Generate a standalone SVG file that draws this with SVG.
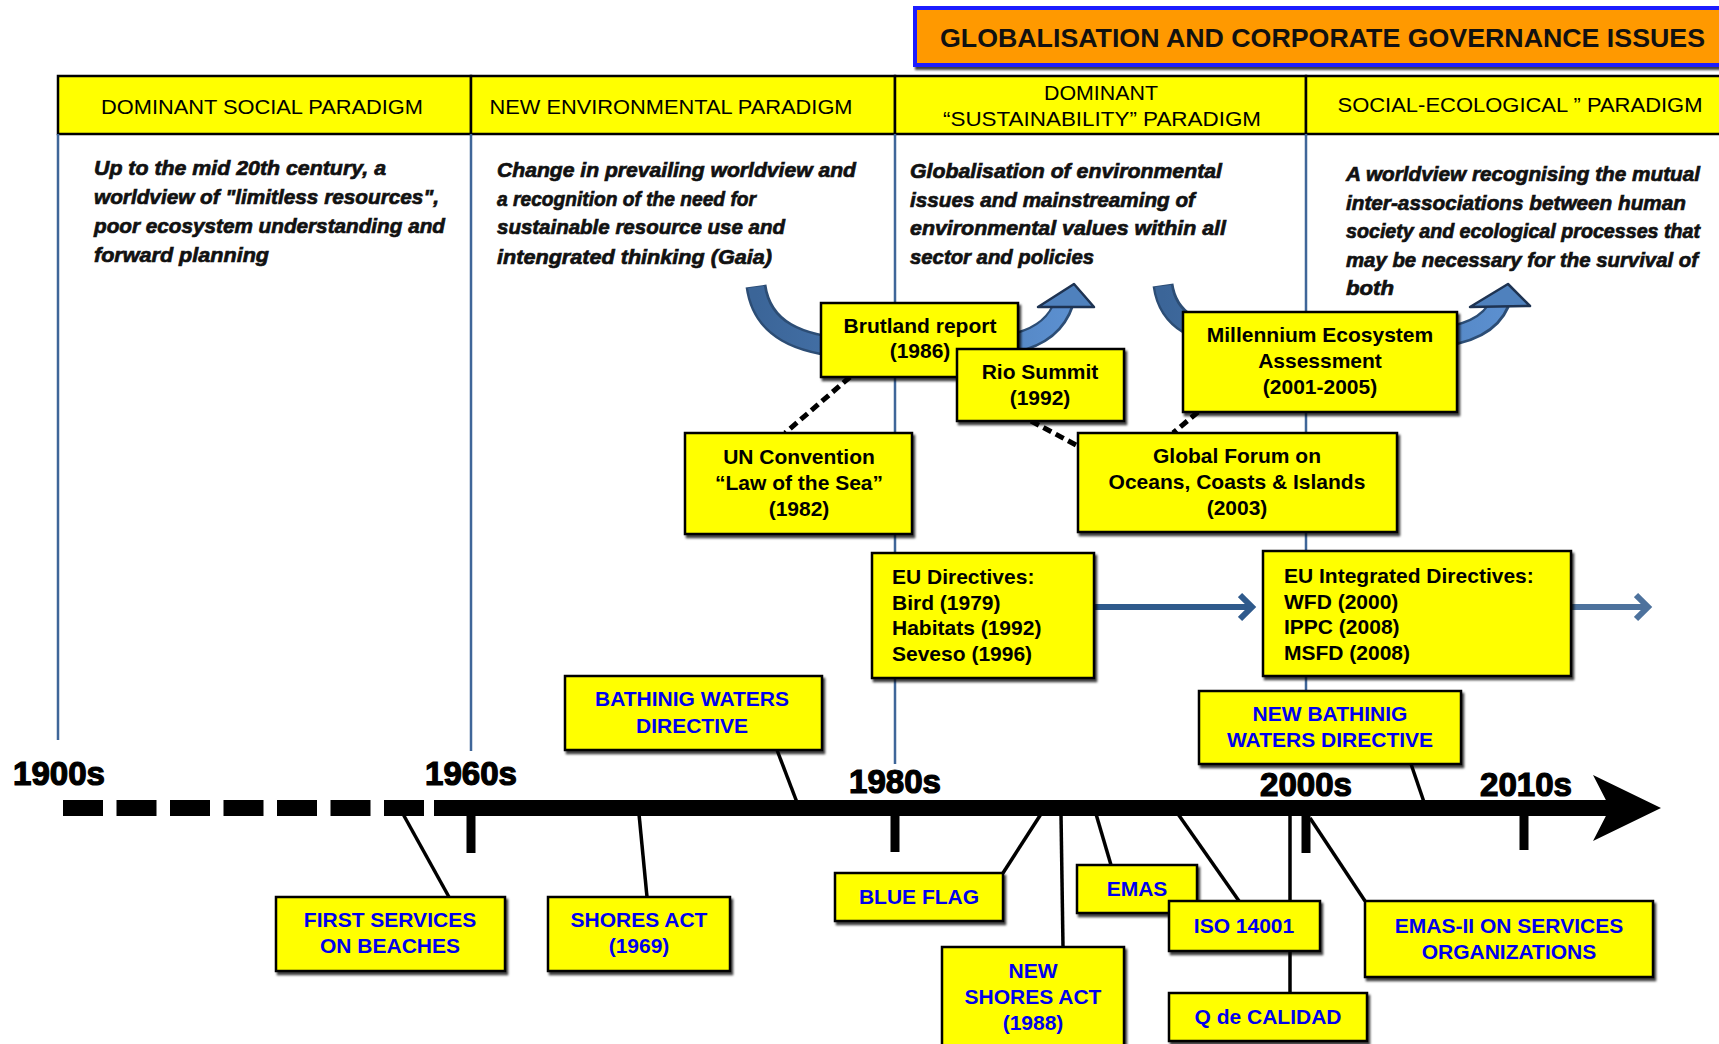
<svg xmlns="http://www.w3.org/2000/svg" width="1719" height="1044" viewBox="0 0 1719 1044">
<style>
text{font-family:"Liberation Sans",Arial,sans-serif}
.hdr{fill:#ffff00;stroke:#000;stroke-width:2.5}
.ht{font-size:21px;fill:#000;text-anchor:middle}
.it{font-size:21px;font-weight:bold;font-style:italic;fill:#111;stroke:#111;stroke-width:0.7}
.vl{stroke:#3f6699;stroke-width:2.5}
.box{fill:#ffff00;stroke:#000;stroke-width:2.5;filter:url(#sh)}
.bt{font-size:21px;font-weight:bold;fill:#000;text-anchor:middle}
.btl{font-size:21px;font-weight:bold;fill:#000}
.blue{font-size:21px;font-weight:bold;fill:#0000ee;text-anchor:middle}
.yr{font-size:33px;font-weight:bold;fill:#000;stroke:#000;stroke-width:1.2}
.con{stroke:#000;stroke-width:3.5;fill:none}
.dash{stroke:#000;stroke-width:5;stroke-dasharray:9 5;fill:none}
.tick{stroke:#000;stroke-width:9}
.eu{stroke:#2f5a8c;stroke-width:6;fill:none}
</style>
<defs>
<filter id="sh" x="-5%" y="-5%" width="115%" height="125%">
<feDropShadow dx="2" dy="3" stdDeviation="1" flood-color="#000" flood-opacity="0.75"/>
</filter>
<linearGradient id="ag" x1="0" y1="0" x2="1" y2="0">
<stop offset="0" stop-color="#3b6598"/>
<stop offset="1" stop-color="#5b8fcf"/>
</linearGradient>
<marker id="chev" markerUnits="userSpaceOnUse" markerWidth="24" markerHeight="34" refX="10" refY="17" orient="auto">
<path d="M2 5 L14 17 L2 29" stroke="#2f5a8c" stroke-width="6" fill="none"/>
</marker>
</defs>

<!-- title -->
<g id="title">
<rect x="915" y="8" width="820" height="57" fill="#ff9900" stroke="#1a1aff" stroke-width="4" filter="url(#sh)"/>
<text x="940" y="47" font-size="26" font-weight="bold" fill="#111" textLength="765" lengthAdjust="spacingAndGlyphs">GLOBALISATION AND CORPORATE GOVERNANCE ISSUES</text>
</g>

<!-- header -->
<g id="header">
<rect class="hdr" x="58" y="76" width="413" height="58"/>
<rect class="hdr" x="471" y="76" width="424" height="58"/>
<rect class="hdr" x="895" y="76" width="411" height="58"/>
<rect class="hdr" x="1306" y="76" width="420" height="58"/>
<text class="ht" x="262" y="114" textLength="322" lengthAdjust="spacingAndGlyphs">DOMINANT SOCIAL PARADIGM</text>
<text class="ht" x="671" y="114" textLength="363" lengthAdjust="spacingAndGlyphs">NEW ENVIRONMENTAL PARADIGM</text>
<text class="ht" x="1101" y="100" textLength="114" lengthAdjust="spacingAndGlyphs">DOMINANT</text>
<text class="ht" x="1102" y="126" textLength="318" lengthAdjust="spacingAndGlyphs">“SUSTAINABILITY” PARADIGM</text>
<text class="ht" x="1520" y="112" textLength="365" lengthAdjust="spacingAndGlyphs">SOCIAL-ECOLOGICAL ” PARADIGM</text>
</g>

<!-- vertical era lines -->
<g id="era-lines">
<line class="vl" x1="58" y1="134" x2="58" y2="740"/>
<line class="vl" x1="471" y1="134" x2="471" y2="751"/>
<line class="vl" x1="895" y1="134" x2="895" y2="764"/>
<line class="vl" x1="1306" y1="134" x2="1306" y2="691"/>
</g>

<!-- era descriptions -->
<g id="era-text">
<text class="it" x="94" y="175" textLength="292" lengthAdjust="spacingAndGlyphs">Up to the mid 20th century, a</text>
<text class="it" x="94" y="204" textLength="345" lengthAdjust="spacingAndGlyphs">worldview of "limitless resources",</text>
<text class="it" x="94" y="233" textLength="351" lengthAdjust="spacingAndGlyphs">poor ecosystem understanding and</text>
<text class="it" x="94" y="262" textLength="175" lengthAdjust="spacingAndGlyphs">forward planning</text>

<text class="it" x="497" y="177" textLength="359" lengthAdjust="spacingAndGlyphs">Change in prevailing worldview and</text>
<text class="it" x="497" y="206" textLength="259" lengthAdjust="spacingAndGlyphs">a recognition of the need for</text>
<text class="it" x="497" y="234" textLength="288" lengthAdjust="spacingAndGlyphs">sustainable resource use and</text>
<text class="it" x="497" y="264" textLength="275" lengthAdjust="spacingAndGlyphs">intengrated thinking (Gaia)</text>

<text class="it" x="910" y="178" textLength="312" lengthAdjust="spacingAndGlyphs">Globalisation of environmental</text>
<text class="it" x="910" y="207" textLength="285" lengthAdjust="spacingAndGlyphs">issues and mainstreaming of</text>
<text class="it" x="910" y="235" textLength="316" lengthAdjust="spacingAndGlyphs">environmental values within all</text>
<text class="it" x="910" y="264" textLength="184" lengthAdjust="spacingAndGlyphs">sector and policies</text>

<text class="it" x="1346" y="181" textLength="354" lengthAdjust="spacingAndGlyphs">A worldview recognising the mutual</text>
<text class="it" x="1346" y="210" textLength="340" lengthAdjust="spacingAndGlyphs">inter-associations between human</text>
<text class="it" x="1346" y="238" font-size="20" textLength="354" lengthAdjust="spacingAndGlyphs" style="font-size:20px">society and ecological processes that</text>
<text class="it" x="1346" y="267" textLength="352" lengthAdjust="spacingAndGlyphs">may be necessary for the survival of</text>
<text class="it" x="1346" y="295" textLength="48" lengthAdjust="spacingAndGlyphs">both</text>
</g>

<!-- curved transition arrows -->
<g id="curved-arrows">
<path d="M756 286 C762 330 800 345 850 348 L990 346 C1030 344 1055 330 1064 303" stroke="#2c4d75" stroke-width="21" fill="none"/>
<path d="M756 287 C762 330 800 345 850 348 L990 346 C1030 344 1055 330 1064 302" stroke="url(#ag)" stroke-width="16" fill="none"/>
<polygon points="1038,307 1074,284 1094,307" fill="#4f81bd" stroke="#1e3352" stroke-width="2.5" stroke-linejoin="round"/>
<path d="M1163 285 C1168 322 1200 336 1240 338 L1430 338 C1465 336 1490 326 1500 303" stroke="#2c4d75" stroke-width="21" fill="none"/>
<path d="M1163 286 C1168 322 1200 336 1240 338 L1430 338 C1465 336 1490 326 1500 302" stroke="url(#ag)" stroke-width="16" fill="none"/>
<polygon points="1470,307 1508,284 1530,306" fill="#4f81bd" stroke="#1e3352" stroke-width="2.5" stroke-linejoin="round"/>
</g>

<!-- timeline -->
<g id="timeline">
<line x1="63" y1="808" x2="476" y2="808" stroke="#000" stroke-width="16" stroke-dasharray="40 13.5"/>
<line x1="434" y1="808" x2="1612" y2="808" stroke="#000" stroke-width="16"/>
<polygon points="1593,775 1661,808 1593,841 1610,808" fill="#000"/>
<line class="tick" x1="471" y1="808" x2="471" y2="853"/>
<line class="tick" x1="895" y1="808" x2="895" y2="852"/>
<line class="tick" x1="1306" y1="808" x2="1306" y2="853"/>
<line class="tick" x1="1524" y1="808" x2="1524" y2="850"/>
<text class="yr" x="13" y="785" textLength="92" lengthAdjust="spacingAndGlyphs">1900s</text>
<text class="yr" x="425" y="785" textLength="92" lengthAdjust="spacingAndGlyphs">1960s</text>
<text class="yr" x="849" y="793" textLength="92" lengthAdjust="spacingAndGlyphs">1980s</text>
<text class="yr" x="1260" y="796" textLength="92" lengthAdjust="spacingAndGlyphs">2000s</text>
<text class="yr" x="1480" y="796" textLength="92" lengthAdjust="spacingAndGlyphs">2010s</text>
</g>

<!-- connectors -->
<g id="connectors">
<line class="dash" x1="850" y1="377" x2="785" y2="433"/>
<line class="dash" x1="1031" y1="421" x2="1078" y2="446"/>
<line class="dash" x1="1198" y1="412" x2="1173" y2="433"/>
<line class="eu" x1="1095" y1="607" x2="1248" y2="607" marker-end="url(#chev)"/>
<line class="eu" x1="1572" y1="607" x2="1644" y2="607" marker-end="url(#chev)" opacity="0.85"/>
<line class="con" x1="449" y1="897" x2="403" y2="814"/>
<line class="con" x1="647" y1="897" x2="639" y2="814"/>
<line class="con" x1="777" y1="750" x2="798" y2="805"/>
<line class="con" x1="1003" y1="873" x2="1041" y2="814"/>
<line class="con" x1="1061" y1="814" x2="1063" y2="947"/>
<line class="con" x1="1111" y1="865" x2="1096" y2="814"/>
<line class="con" x1="1239" y1="901" x2="1178" y2="814"/>
<line class="con" x1="1290" y1="814" x2="1290" y2="993"/>
<line class="con" x1="1365" y1="901" x2="1310" y2="818"/>
<line class="con" x1="1411" y1="764" x2="1425" y2="805"/>
</g>

<!-- nodes -->
<g id="brutland">
<rect class="box" x="821" y="303" width="197" height="74"/>
<text class="bt" x="920" y="333">Brutland report</text>
<text class="bt" x="920" y="358">(1986)</text>
</g>
<g id="rio">
<rect class="box" x="957" y="349" width="167" height="72"/>
<text class="bt" x="1040" y="379">Rio Summit</text>
<text class="bt" x="1040" y="405">(1992)</text>
</g>
<g id="un-convention">
<rect class="box" x="685" y="433" width="227" height="101"/>
<text class="bt" x="799" y="464">UN Convention</text>
<text class="bt" x="799" y="490">“Law of the Sea”</text>
<text class="bt" x="799" y="516">(1982)</text>
</g>
<g id="millennium">
<rect class="box" x="1183" y="312" width="274" height="100"/>
<text class="bt" x="1320" y="342">Millennium Ecosystem</text>
<text class="bt" x="1320" y="368">Assessment</text>
<text class="bt" x="1320" y="394">(2001-2005)</text>
</g>
<g id="global-forum">
<rect class="box" x="1078" y="433" width="319" height="99"/>
<text class="bt" x="1237" y="463">Global Forum on</text>
<text class="bt" x="1237" y="489">Oceans, Coasts &amp; Islands</text>
<text class="bt" x="1237" y="515">(2003)</text>
</g>
<g id="eu-directives">
<rect class="box" x="872" y="553" width="222" height="125"/>
<text class="btl" x="892" y="584">EU Directives:</text>
<text class="btl" x="892" y="610">Bird (1979)</text>
<text class="btl" x="892" y="635">Habitats (1992)</text>
<text class="btl" x="892" y="661">Seveso (1996)</text>
</g>
<g id="eu-integrated">
<rect class="box" x="1263" y="551" width="308" height="125"/>
<text class="btl" x="1284" y="583">EU Integrated Directives:</text>
<text class="btl" x="1284" y="609">WFD (2000)</text>
<text class="btl" x="1284" y="634">IPPC (2008)</text>
<text class="btl" x="1284" y="660">MSFD (2008)</text>
</g>
<g id="new-bathing">
<rect class="box" x="1199" y="691" width="262" height="73"/>
<text class="blue" x="1330" y="721">NEW BATHINIG</text>
<text class="blue" x="1330" y="747">WATERS DIRECTIVE</text>
</g>
<g id="bathing">
<rect class="box" x="565" y="676" width="257" height="74"/>
<text class="blue" x="692" y="706">BATHINIG WATERS</text>
<text class="blue" x="692" y="733">DIRECTIVE</text>
</g>
<g id="first-services">
<rect class="box" x="276" y="897" width="229" height="74"/>
<text class="blue" x="390" y="927">FIRST SERVICES</text>
<text class="blue" x="390" y="953">ON BEACHES</text>
</g>
<g id="shores-act">
<rect class="box" x="548" y="897" width="182" height="74"/>
<text class="blue" x="639" y="927">SHORES ACT</text>
<text class="blue" x="639" y="953">(1969)</text>
</g>
<g id="blue-flag">
<rect class="box" x="835" y="873" width="168" height="48"/>
<text class="blue" x="919" y="904">BLUE FLAG</text>
</g>
<g id="new-shores-act">
<rect class="box" x="942" y="947" width="182" height="110"/>
<text class="blue" x="1033" y="978">NEW</text>
<text class="blue" x="1033" y="1004">SHORES ACT</text>
<text class="blue" x="1033" y="1030">(1988)</text>
</g>
<g id="emas">
<rect class="box" x="1077" y="865" width="120" height="48"/>
<text class="blue" x="1137" y="896">EMAS</text>
</g>
<g id="iso">
<rect class="box" x="1169" y="901" width="151" height="50"/>
<text class="blue" x="1244" y="933">ISO 14001</text>
</g>
<g id="q-calidad">
<rect class="box" x="1169" y="993" width="198" height="48"/>
<text class="blue" x="1268" y="1024">Q de CALIDAD</text>
</g>
<g id="emas-ii">
<rect class="box" x="1365" y="901" width="288" height="76"/>
<text class="blue" x="1509" y="933">EMAS-II ON SERVICES</text>
<text class="blue" x="1509" y="959">ORGANIZATIONS</text>
</g>
</svg>
